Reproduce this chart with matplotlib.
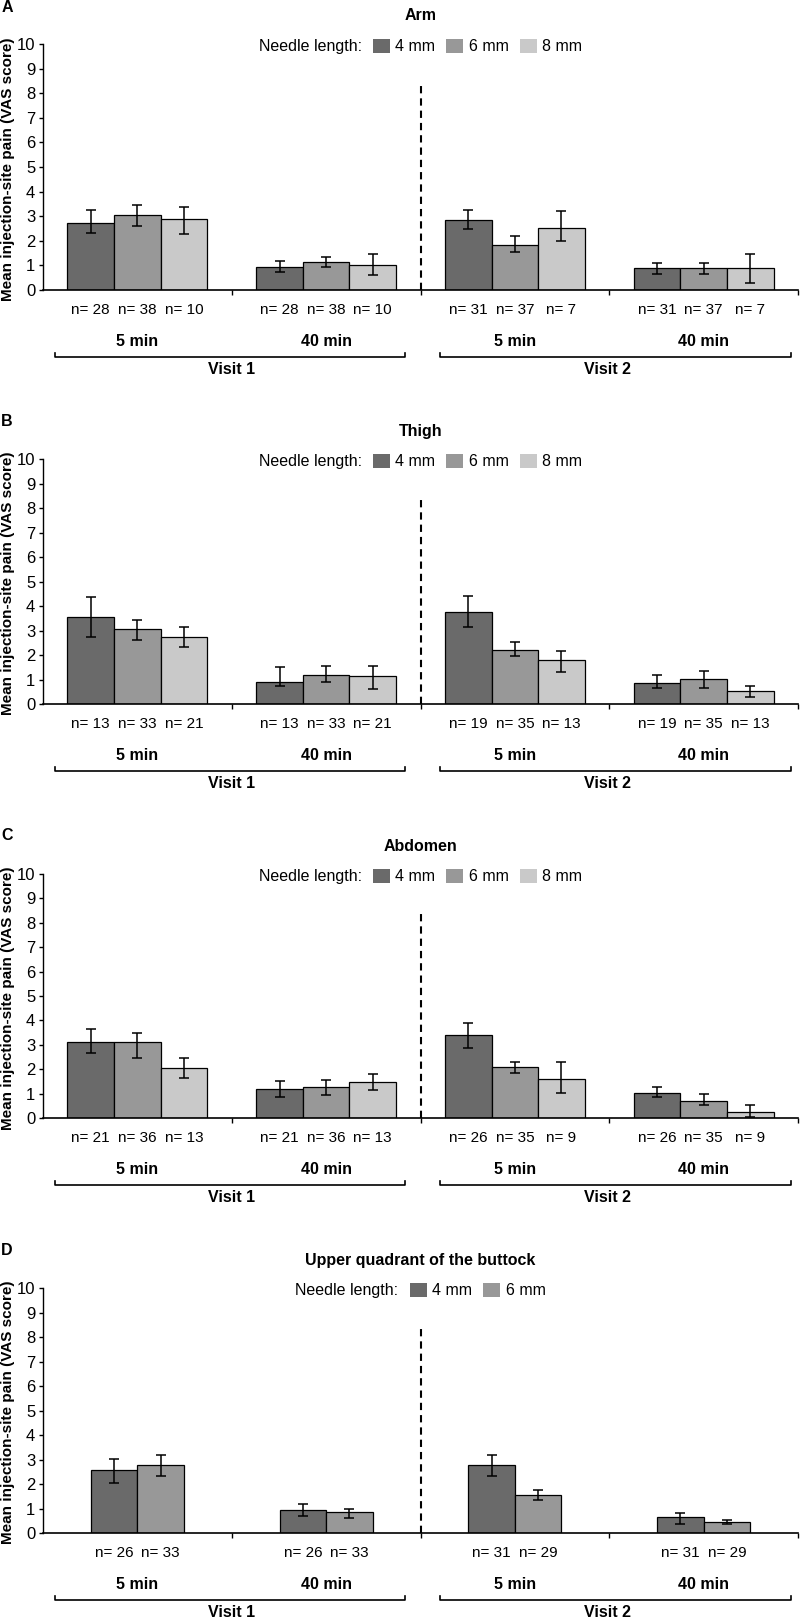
import numpy as np
import matplotlib.pyplot as plt
from matplotlib.patches import Patch

plt.rcParams['font.family'] = ['Liberation Sans', 'DejaVu Sans']

# ---- data ----
times = ['5 min', '40 min', '5 min', '40 min']
visits = ['Visit 1', 'Visit 2']
needles = ['4 mm', '6 mm', '8 mm']
titles = ['Arm', 'Thigh', 'Abdomen', 'Upper quadrant of the buttock']
letters = ['A', 'B', 'C', 'D']

arm_mean = [[2.74, 3.05, 2.88], [0.95, 1.15, 1.03], [2.86, 1.83, 2.54], [0.90, 0.90, 0.90]]
arm_lo = [[2.31, 2.60, 2.27], [0.73, 0.92, 0.62], [2.48, 1.56, 2.01], [0.65, 0.65, 0.30]]
arm_hi = [[3.26, 3.45, 3.39], [1.19, 1.34, 1.48], [3.24, 2.20, 3.22], [1.09, 1.09, 1.48]]
arm_n = [[28, 38, 10], [28, 38, 10], [31, 37, 7], [31, 37, 7]]

thigh_mean = [[3.54, 3.06, 2.75], [0.91, 1.17, 1.16], [3.77, 2.22, 1.81], [0.84, 1.03, 0.53]]
thigh_lo = [[2.75, 2.63, 2.33], [0.72, 0.91, 0.61], [3.16, 1.95, 1.32], [0.64, 0.64, 0.29]]
thigh_hi = [[4.35, 3.44, 3.16], [1.51, 1.56, 1.56], [4.39, 2.54, 2.15], [1.17, 1.33, 0.72]]
thigh_n = [[13, 33, 21], [13, 33, 21], [19, 35, 13], [19, 35, 13]]

abd_mean = [[3.10, 3.10, 2.06], [1.19, 1.27, 1.47], [3.41, 2.09, 1.61], [1.02, 0.71, 0.23]]
abd_lo = [[2.66, 2.46, 1.62], [0.85, 0.94, 1.16], [2.86, 1.84, 1.02], [0.85, 0.55, 0.03]]
abd_hi = [[3.64, 3.47, 2.47], [1.50, 1.56, 1.80], [3.89, 2.28, 2.29], [1.27, 0.97, 0.52]]
abd_n = [[21, 36, 13], [21, 36, 13], [26, 35, 9], [26, 35, 9]]

butt_mean = [[2.59, 2.76], [0.93, 0.84], [2.79, 1.55], [0.67, 0.46]]
butt_lo = [[2.04, 2.34], [0.71, 0.61], [2.34, 1.33], [0.35, 0.35]]
butt_hi = [[3.02, 3.17], [1.18, 1.00], [3.18, 1.77], [0.80, 0.52]]
butt_n = [[26, 33], [26, 33], [31, 29], [31, 29]]

colo = ['#6a6a6a', '#989898', '#c9c9c9']

panels = [(arm_mean, arm_lo, arm_hi, arm_n),
          (thigh_mean, thigh_lo, thigh_hi, thigh_n),
          (abd_mean, abd_lo, abd_hi, abd_n),
          (butt_mean, butt_lo, butt_hi, butt_n)]

# ---- layout (pixels of a 800x1619 canvas) ----
W, H = 800, 1619
fig = plt.figure(figsize=(W / 100, H / 100), dpi=100)
tops = [44, 459, 874, 1288]
bots = [290, 704, 1118, 1533]
letter_y = [8, 422, 835, 1250]
left_px, right_px = 43, 798
bw = 0.247

for p in range(4):
    mean, lo, hi, nn = panels[p]
    top, bot = tops[p], bots[p]
    hpx = bot - top
    ax = fig.add_axes([left_px / W, 1 - bot / H, (right_px - left_px) / W, hpx / H])
    nb = len(mean[0])
    offs = (np.arange(nb) - (nb - 1) / 2) * bw

    for k in range(nb):
        x = np.arange(4) + offs[k]
        m = np.array([g[k] for g in mean])
        l = np.array([g[k] for g in lo])
        h = np.array([g[k] for g in hi])
        ax.bar(x, m, width=bw, color=colo[k], edgecolor='k', linewidth=0.9, zorder=2)
        ax.errorbar(x, m, yerr=[m - l, h - m], fmt='none', ecolor='k',
                    elinewidth=1.1, capsize=3.6, capthick=1.1, zorder=3)
        for i in range(4):
            ax.text(x[i], -20 / hpx, 'n= %d' % nn[i][k], transform=ax.get_xaxis_transform(),
                    ha='center', va='center', fontsize=11)

    ax.set_xlim(-0.5, 3.5)
    ax.set_ylim(0, 10)
    ax.set_yticks(range(0, 11))
    ax.set_xticks([0.5, 1.5, 2.5, 3.5])
    ax.set_xticklabels([])
    for s in ['top', 'right']:
        ax.spines[s].set_visible(False)
    ax.spines['left'].set_linewidth(1.0)
    ax.spines['bottom'].set_linewidth(1.2)
    ax.tick_params(axis='y', direction='out', length=3, width=1, labelsize=12, pad=2.5)
    ax.tick_params(axis='x', direction='out', length=3.5, width=1)

    # visit separator
    ax.plot([1.5, 1.5], [0, 8.35], color='k', lw=1.5, linestyle=(0, (3.5, 2.4)),
            clip_on=False, zorder=1)

    tr = ax.get_xaxis_transform()
    for i in range(4):
        ax.text(i, -51 / hpx, times[i], transform=tr, ha='center', va='center',
                fontsize=11.5, fontweight='bold')
    for (x0, x1), v, xc in zip([(-0.436, 1.418), (1.603, 3.463)], visits, [0.5, 2.49]):
        ax.plot([x0, x0, x1, x1], [-63 / hpx, -67 / hpx, -67 / hpx, -63 / hpx],
                transform=tr, color='k', lw=1.2, clip_on=False)
        ax.text(xc, -79 / hpx, v, transform=tr, ha='center', va='center',
                fontsize=11.5, fontweight='bold')

    # title, letter, y label
    ax.text(0.5, 1 + 28 / hpx, titles[p], transform=ax.transAxes, ha='center',
            va='center', fontsize=11.5, fontweight='bold')
    fig.text(7 / W, 1 - letter_y[p] / H, letters[p], ha='center', va='center',
             fontsize=11.5, fontweight='bold')
    fig.text(8 / W, 1 - ((top + bot) / 2 + 2) / H, 'Mean injection-site pain (VAS score)',
             rotation=90, ha='center', va='center', fontsize=11, fontweight='bold')

    # legend
    handles = [Patch(facecolor=colo[k], edgecolor='none') for k in range(nb)]
    if nb == 3:
        lx, tx = 0.437, 0.4225
    else:
        lx, tx = 0.486, 0.470
    ax.legend(handles, needles[:nb], ncol=nb, loc='center left', bbox_to_anchor=(lx, 0.99),
              frameon=False, fontsize=11.5, handlelength=1.05, handleheight=1.05,
              handletextpad=0.35, columnspacing=0.7, borderpad=0, borderaxespad=0)
    ax.text(tx, 0.99, 'Needle length:', transform=ax.transAxes, ha='right', va='center',
            fontsize=11.5)

fig.savefig('out.png', dpi=100)
